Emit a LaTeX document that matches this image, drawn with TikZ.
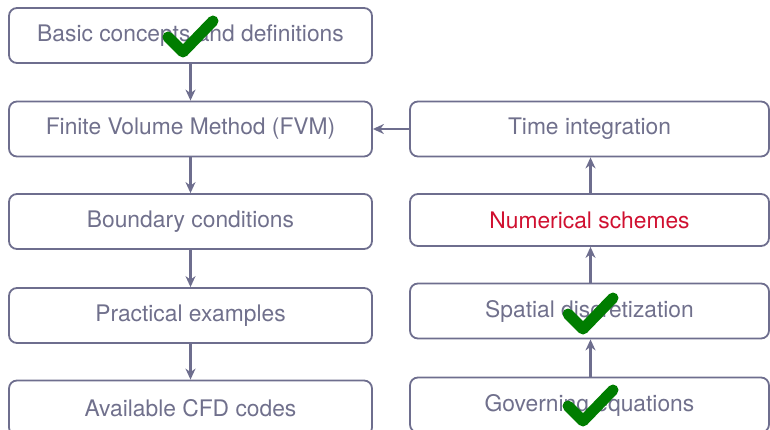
\documentclass[tikz,border=0pt]{standalone}
\usepackage{fontspec}
\setmainfont{TeX Gyre Heros}
\usetikzlibrary{arrows.meta}
\definecolor{boxc}{RGB}{110,110,142}
\definecolor{txtc}{RGB}{112,112,140}
\definecolor{redc}{RGB}{208,16,48}
\definecolor{chk}{RGB}{0,125,0}
\tikzset{
  boxl/.style={draw=boxc, line width=1.8pt, rounded corners=8pt, minimum width=363pt, minimum height=55pt, text=txtc, font=\fontsize{22.8}{26}\selectfont, inner sep=0pt},
  boxr/.style={boxl, minimum width=359pt},
  arr/.style={draw=boxc, line width=2.2pt, -{Stealth[length=11pt,width=10pt]}},
  tick/.style={draw=chk, line width=11pt, line cap=round, line join=round}
}
\begin{document}
\begin{tikzpicture}[x=1pt,y=-1pt]
\useasboundingbox (0,0) rectangle (770,430);
\clip (0,0) rectangle (770,430);
\node[boxl] (basic) at (190.5,35.5) {Basic concepts and definitions};
\node[boxl] (fvm) at (190.5,129) {Finite Volume Method (FVM)};
\node[boxl] (bc) at (190.5,221.5) {Boundary conditions};
\node[boxl] (prac) at (190.5,315.5) {Practical examples};
\node[boxl] (cfd) at (190.5,408) {Available CFD codes};
\node[boxr] (time) at (589.5,129) {Time integration};
\node[boxr, minimum height=52pt, text=redc] (num) at (589.5,220) {Numerical schemes};
\node[boxr] (spat) at (589.5,311) {Spatial discretization};
\node[boxr] (gov) at (589.5,405) {Governing equations};
\draw[arr] (basic) -- (fvm);
\draw[arr] (fvm) -- (bc);
\draw[arr] (bc) -- (prac);
\draw[arr] (prac) -- (cfd);
\draw[arr] (gov.north -| 590.5,0) -- (spat.south -| 590.5,0);
\draw[arr] (spat.north -| 590.5,0) -- (num.south -| 590.5,0);
\draw[arr] (num.north -| 590.5,0) -- (time.south -| 590.5,0);
\draw[arr] (time) -- (fvm);
\draw[tick] (168,37) -- (183,52) -- (213,21);
\draw[tick] (568,314) -- (583,329) -- (613,298);
\draw[tick] (568,406) -- (583,421) -- (613,390);
\end{tikzpicture}
\end{document}
